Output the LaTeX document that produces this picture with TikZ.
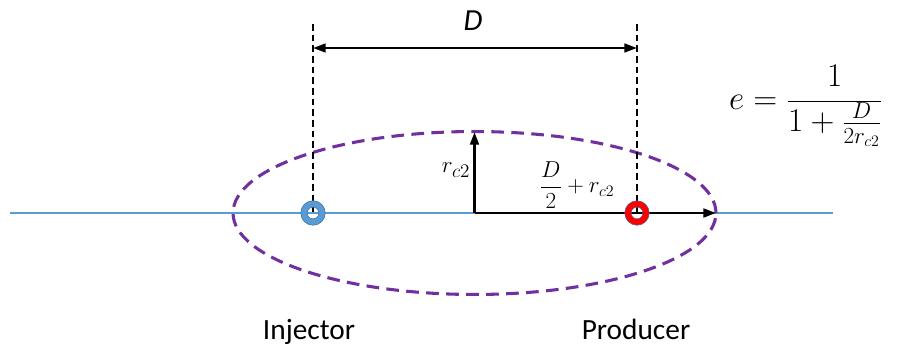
\documentclass[tikz,border=0pt]{standalone}
\usepackage{fontspec}
\setmainfont{Carlito}
\usetikzlibrary{arrows.meta}
\definecolor{wellblue}{HTML}{5B9BD5}
\definecolor{welledge}{HTML}{41719C}
\definecolor{ellpurple}{HTML}{7030A0}
\begin{document}
\begin{tikzpicture}[x=0.75pt,y=-0.75pt,
  axisline/.style={wellblue,line width=1.1pt},
  guideline/.style={black,line width=1.1pt,dash pattern=on 5pt off 3pt},
  contour/.style={ellpurple,line width=2.3pt,dash pattern=on 9.5pt off 5.5pt},
  dimline/.style={black,line width=1.9pt,{Triangle[length=9.5pt,width=6.5pt]}-{Triangle[length=9.5pt,width=6.5pt]}},
  radline/.style={black,line width=2.1pt,-{Triangle[length=9.5pt,width=6.5pt]}},
  lbl/.style={inner sep=0pt,font=\fontsize{22}{26}\selectfont}]
\useasboundingbox (0,0) rectangle (898,345);
\coordinate (L) at (10,213);
\coordinate (R) at (833,213);
\coordinate (inj) at (313,213);
\coordinate (prod) at (637,213);
\coordinate (injT) at (313,24);
\coordinate (prodT) at (637,24);
\coordinate (dl) at (313,48);
\coordinate (dr) at (637,48);
\coordinate (c) at (474.5,213);
\coordinate (ctop) at (474.5,132);
\coordinate (cright) at (716,213);
% axis
\draw[axisline] (L) -- (R);
% drainage ellipse
\draw[contour] (c) ellipse [x radius=181.1pt, y radius=61.1pt];
% guides
\draw[guideline] (injT) -- (inj);
\draw[guideline] (prodT) -- (prod);
\draw[dimline] (dl) -- (dr);
\draw[radline] (c) -- (ctop);
\draw[radline] (c) -- (cright);
% wells
\fill[wellblue,even odd rule] (inj) circle[radius=9.2pt] circle[radius=4.4pt];
\draw[welledge,line width=0.4pt] (inj) circle[radius=9.2pt] circle[radius=4.4pt];
\fill[red,even odd rule] (prod) circle[radius=9.2pt] circle[radius=4.4pt];
\draw[welledge,line width=0.4pt] (prod) circle[radius=9.2pt] circle[radius=4.4pt];
% labels
\node[inner sep=0pt,anchor=base,font=\fontsize{23}{26}\selectfont\itshape] (dlab) at (473,31) {D};
\node[inner sep=0pt,font=\fontsize{19}{22}\selectfont] (rlab) at (456,170) {$r_{c2}$};
\node[inner sep=0pt,font=\fontsize{18}{22}\selectfont] (hlab) at (577,185) {$\displaystyle\frac{D}{2}+r_{c2}$};
\node[inner sep=0pt,font=\fontsize{24}{28}\selectfont] (form) at (806,106) {$\displaystyle e=\frac{1}{1+\frac{D}{2r_{c2}}}$};
\node[lbl,anchor=base] (injlab) at (309,339) {Injector};
\node[lbl,anchor=base] (prodlab) at (636,339) {Producer};
\end{tikzpicture}
\end{document}
